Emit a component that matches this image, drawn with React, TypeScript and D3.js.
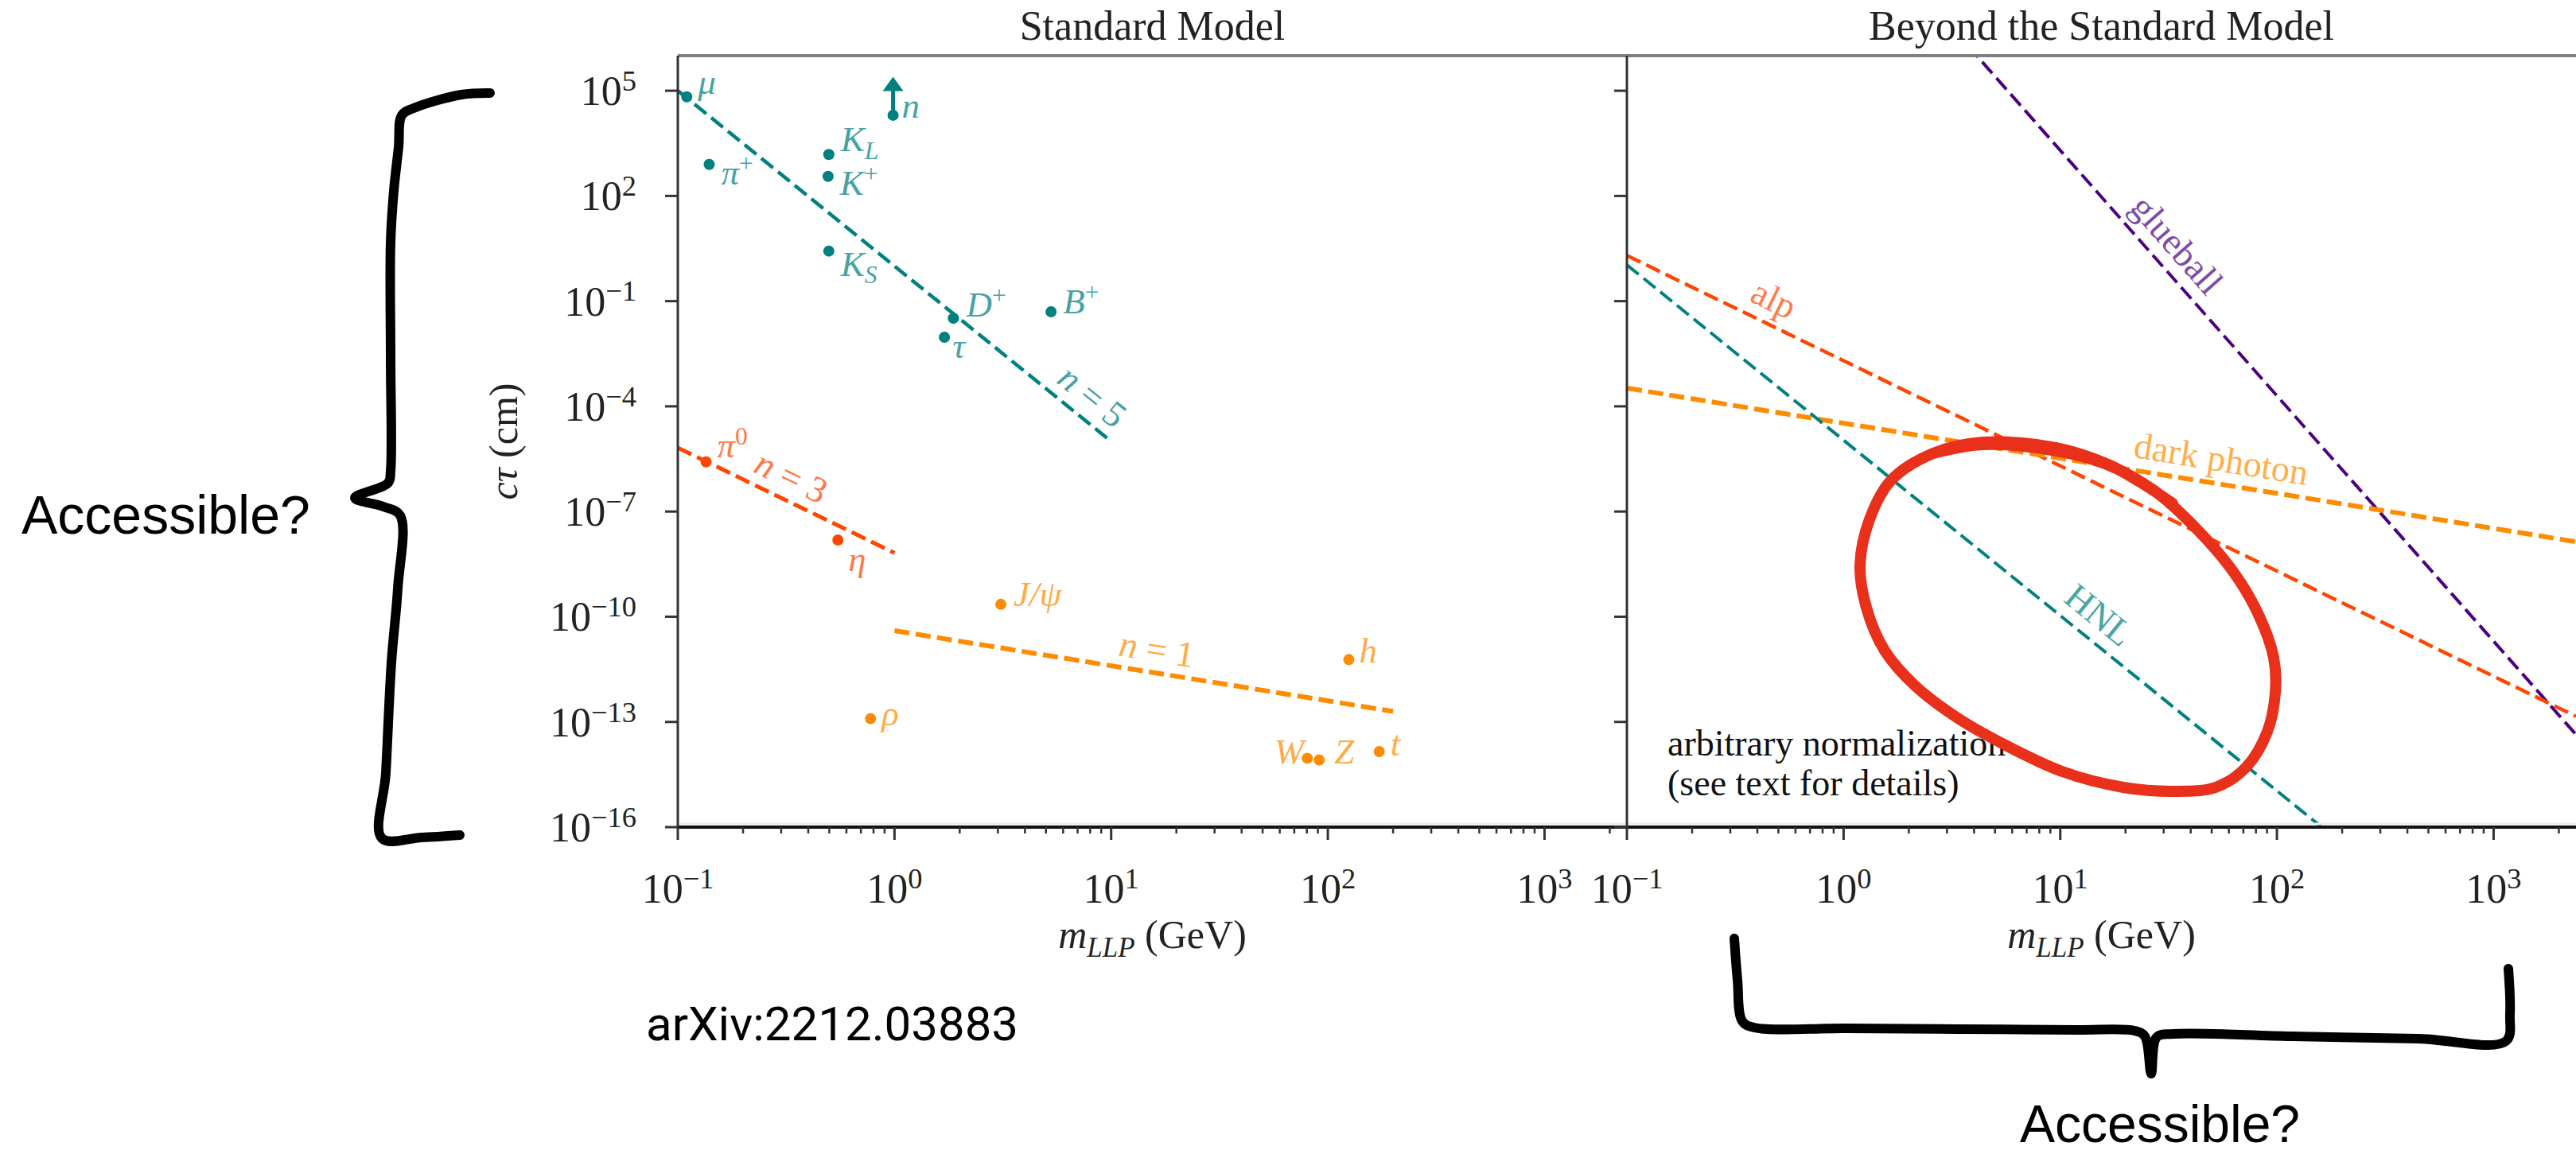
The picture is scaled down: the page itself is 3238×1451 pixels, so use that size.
import React from "react";
import * as d3 from "d3";

// ---------------- data ----------------
const xDomain = [0.1, 2400];
const yDomain = [1e-16, 1e6];
const xTickValues = [0.1, 1, 10, 100, 1000];
const yTickValues = [1e5, 1e2, 1e-1, 1e-4, 1e-7, 1e-10, 1e-13, 1e-16];

// Standard Model particles: mass (GeV), c tau (cm)
const tealNames = ["mu", "pi+", "KL", "K+", "KS", "n", "D+", "B+", "tau"];
const tealMass = [0.11, 0.1396, 0.4976, 0.4937, 0.4976, 0.985, 1.87, 5.28, 1.7];
const tealCtau = [6.7e4, 790, 1520, 362, 2.68, 2.0e4, 0.0325, 0.0498, 0.0093];

const redNames = ["pi0", "eta"];
const redMass = [0.135, 0.548];
const redCtau = [2.6e-6, 1.54e-8];

const orangeNames = ["Jpsi", "rho", "h", "W", "Z", "t"];
const orangeMass = [3.097, 0.775, 125, 80.4, 91.2, 172.7];
const orangeCtau = [2.26e-10, 1.24e-13, 6.0e-12, 9.2e-15, 8.2e-15, 1.43e-14];

const neutronArrowTop = 2.5e5; // the neutron is off the chart

// scaling lines: c tau = norm * m^-power
const smLineNames = ["n = 5", "n = 3", "n = 1"];
const smLinePower = [5, 3, 1];
const smLineNorm = [1.0, 6.6e-9, 4.0e-11];
const smLineFrom = [0.1, 0.1, 1];
const smLineTo = [10, 1, 200];
const smLineLabelAt = [7.0, 0.3, 15.6];

const bsmLineNames = ["glueball", "alp", "dark photon", "HNL"];
const bsmLinePower = [7, 3, 1, 5];
const bsmLineNorm = [2.0e10, 2.0e-3, 3.3e-5, 1.08e-5];
const bsmLineLabelAt = [28.3, 0.425, 53, 12.8];

// ---------------- styles / layout ----------------
const W = 3238;
const H = 1451;
const TOP = 70;
const BOTTOM = 1040;
const LEFT = 852;
const MID = 2045;
const RIGHT = 3238;

const TEAL = "#008080";
const RED = "#ff4500";
const ORANGE = "#ff8c00";
const INDIGO = "#4b0082";
const serif = "'Liberation Serif', 'DejaVu Serif', serif";
const sans = "'Liberation Sans', Arial, sans-serif";

const smLineColor = [TEAL, RED, ORANGE];
const smLineWidth = [4.5, 5, 6];
const bsmLineColor = [INDIGO, RED, ORANGE, TEAL];
const bsmLineWidth = [4, 4.5, 6, 4];

// label offset from the dot (px), and anchor
const labelOffset: Record<string, [number, number, string]> = {
  mu: [14, -4, "start"],
  "pi+": [15, 25, "start"],
  KL: [15, -4, "start"],
  "K+": [15, 23, "start"],
  KS: [15, 31, "start"],
  n: [11, 3, "start"],
  "D+": [16, -2, "start"],
  "B+": [15, 2, "start"],
  tau: [10, 26, "start"],
  pi0: [14, -6, "start"],
  eta: [13, 39, "start"],
  Jpsi: [16, 2, "start"],
  rho: [14, 8, "start"],
  h: [13, 4, "start"],
  W: [-4, 7, "end"],
  Z: [19, 4, "start"],
  t: [14, 5, "start"],
};

// hand drawn annotations (pixels)
const leftBrace = [
  [616, 117], [580, 119], [520, 136], [505, 145], [501, 185], [495, 240], [491, 305],
  [491, 450], [491, 592], [488, 607], [446, 626], [482, 637], [503, 648], [500, 740],
  [492, 833], [485, 972], [480, 1054], [530, 1053], [578, 1050],
];
const bottomBrace = [
  [2180, 1180], [2184, 1232], [2190, 1284], [2205, 1292], [2320, 1293], [2460, 1294],
  [2610, 1295], [2683, 1296], [2696, 1303], [2704, 1350], [2711, 1304], [2732, 1300],
  [2880, 1303], [3040, 1306], [3150, 1309], [3155, 1275], [3153, 1218],
];
const redLoop = [
  [2430, 570], [2492, 559], [2585, 567], [2646, 583], [2708, 617], [2762, 666],
  [2808, 720], [2839, 773], [2858, 827], [2860, 871], [2850, 920], [2823, 965],
  [2785, 990], [2731, 995], [2669, 990], [2592, 970], [2523, 938], [2461, 903],
  [2407, 862], [2369, 818], [2346, 764], [2338, 711], [2350, 653], [2377, 604],
  [2430, 570], [2492, 556], [2585, 563], [2650, 584], [2690, 606], [2731, 633],
];

// ---------------- scales ----------------
const y = d3.scaleLog().domain(yDomain).range([BOTTOM, TOP]);
const xL = d3.scaleLog().domain(xDomain).range([LEFT, MID]);
const xR = d3.scaleLog().domain(xDomain).range([MID, RIGHT]);

const minorTicks: number[] = [];
for (let d = -1; d <= 3; d++) {
  for (let k = 2; k <= 9; k++) {
    const v = k * Math.pow(10, d);
    if (v <= xDomain[1]) minorTicks.push(v);
  }
}

const exp = (v: number) => Math.round(Math.log10(v));
const expText = (e: number) => (e < 0 ? "\u2212" + -e : String(e));

const sup = (s: string) => (
  <tspan fontSize="0.7em" dy="-0.5em" fontStyle="normal">{s}</tspan>
);
const sub = (s: string) => (
  <tspan fontSize="0.7em" dy="0.3em" fontStyle="italic">{s}</tspan>
);
const it = (s: string) => <tspan fontStyle="italic">{s}</tspan>;

function particleLabel(name: string) {
  switch (name) {
    case "mu": return it("μ");
    case "pi+": return <>{it("π")}{sup("+")}</>;
    case "KL": return <>{it("K")}{sub("L")}</>;
    case "K+": return <>{it("K")}{sup("+")}</>;
    case "KS": return <>{it("K")}{sub("S")}</>;
    case "n": return it("n");
    case "D+": return <>{it("D")}{sup("+")}</>;
    case "B+": return <>{it("B")}{sup("+")}</>;
    case "tau": return it("τ");
    case "pi0": return <>{it("π")}{sup("0")}</>;
    case "eta": return it("η");
    case "Jpsi": return it("J/ψ");
    case "rho": return it("ρ");
    default: return it(name);
  }
}

function lineLabelText(name: string) {
  if (name.startsWith("n = ")) return <>{it("n")}<tspan>{" = " + name.slice(4)}</tspan></>;
  return name;
}

const power = (norm: number, p: number) => (m: number) => norm * Math.pow(m, -p);
const line2 = d3.line<[number, number]>();

function labelOnLine(xs: any, f: (m: number) => number, mAt: number, off: number) {
  const p = [xs(mAt), y(f(mAt))];
  const q = [xs(mAt * 1.2), y(f(mAt * 1.2))];
  const a = Math.atan2(q[1] - p[1], q[0] - p[0]);
  return {
    x: p[0] + Math.sin(a) * off,
    y: p[1] - Math.cos(a) * off,
    deg: (a * 180) / Math.PI,
  };
}

function Dots({ names, mass, ctau, color }: any) {
  return (
    <g>
      {names.map((nm: string, i: number) => {
        const cx = xL(mass[i]);
        const cy = y(ctau[i]);
        const [dx, dy, anchor] = labelOffset[nm];
        return (
          <g key={nm}>
            <circle cx={cx} cy={cy} r={7} fill={color} />
            <text x={cx + dx} y={cy + dy} textAnchor={anchor} fill={color} opacity={0.72}
              fontFamily={serif} fontSize={45}>
              {particleLabel(nm)}
            </text>
          </g>
        );
      })}
    </g>
  );
}

function Axes({ xs, x0, x1, title, yLabels }: any) {
  const cx = (x0 + x1) / 2;
  return (
    <g fontFamily={serif} fill="#222">
      <text x={cx} y={50} textAnchor="middle" fontSize={52}>{title}</text>
      {/* frame */}
      <line x1={x0} x2={x1} y1={TOP} y2={TOP} stroke="#808080" strokeWidth={4} />
      <line x1={x0} x2={x1} y1={BOTTOM - 4} y2={BOTTOM - 4} stroke="#eeeeee" strokeWidth={3} />
      <line x1={x0} x2={x1} y1={BOTTOM} y2={BOTTOM} stroke="#111" strokeWidth={4} />
      <line x1={x0} x2={x0} y1={TOP} y2={BOTTOM} stroke="#333" strokeWidth={3} />
      {/* x ticks */}
      {minorTicks.map((v) => (
        <line key={"m" + v} x1={xs(v)} x2={xs(v)} y1={BOTTOM} y2={BOTTOM + 8} stroke="#333" strokeWidth={2.5} />
      ))}
      {xTickValues.map((v) => (
        <g key={"x" + v}>
          <line x1={xs(v)} x2={xs(v)} y1={BOTTOM} y2={BOTTOM + 16} stroke="#333" strokeWidth={3} />
          <text x={xs(v)} y={1135} textAnchor="middle" fontSize={52}>
            10{sup(expText(exp(v)))}
          </text>
        </g>
      ))}
      {/* y ticks */}
      {yTickValues.map((v) => (
        <g key={"y" + v}>
          <line x1={x0 - 16} x2={x0} y1={y(v)} y2={y(v)} stroke="#333" strokeWidth={3} />
          {yLabels && (
            <text x={800} y={y(v) + 18} textAnchor="end" fontSize={52}>
              10{sup(expText(exp(v)))}
            </text>
          )}
        </g>
      ))}
      <text x={cx} y={1192} textAnchor="middle" fontSize={50}>
        {it("m")}{sub("LLP")}<tspan dy="-0.21em">{" (GeV)"}</tspan>
      </text>
    </g>
  );
}

export default function App() {
  const smLines = smLineNames.map((nm, i) => {
    const f = power(smLineNorm[i], smLinePower[i]);
    const d = line2([
      [xL(smLineFrom[i]), y(f(smLineFrom[i]))],
      [xL(smLineTo[i]), y(f(smLineTo[i]))],
    ]);
    const lab = labelOnLine(xL, f, smLineLabelAt[i], 30);
    return { nm, d, lab, color: smLineColor[i], w: smLineWidth[i] };
  });
  const bsmLines = bsmLineNames.map((nm, i) => {
    const f = power(bsmLineNorm[i], bsmLinePower[i]);
    const d = line2([
      [xR(xDomain[0]), y(f(xDomain[0]))],
      [xR(xDomain[1]), y(f(xDomain[1]))],
    ]);
    const lab = labelOnLine(xR, f, bsmLineLabelAt[i], 32);
    return { nm, d, lab, color: bsmLineColor[i], w: bsmLineWidth[i] };
  });

  const nx = xL(tealMass[5]);
  const nTop = y(neutronArrowTop);
  const curve = d3.line<number[]>().curve(d3.curveCatmullRom.alpha(0.5));

  return (
    <svg width={W} height={H} style={{ position: "absolute", left: 0, top: 0, background: "#fff" }}>
      <defs>
        <clipPath id="clipL"><rect x={LEFT} y={TOP} width={MID - LEFT} height={BOTTOM - TOP} /></clipPath>
        <clipPath id="clipR"><rect x={MID} y={TOP} width={RIGHT - MID} height={BOTTOM - TOP} /></clipPath>
      </defs>
      <rect width={W} height={H} fill="#fff" />

      {/* Standard Model panel */}
      <g clipPath="url(#clipL)">
        {smLines.map((l) => (
          <path key={l.nm} d={l.d!} stroke={l.color} strokeWidth={l.w} strokeDasharray="19 8" fill="none" />
        ))}
        {smLines.map((l) => (
          <text key={"t" + l.nm} transform={`translate(${l.lab.x},${l.lab.y}) rotate(${l.lab.deg})`}
            textAnchor="middle" dy="0.35em" fill={l.color} opacity={0.72} fontFamily={serif} fontSize={46}>
            {lineLabelText(l.nm)}
          </text>
        ))}
        <Dots names={tealNames} mass={tealMass} ctau={tealCtau} color={TEAL} />
        <Dots names={redNames} mass={redMass} ctau={redCtau} color={RED} />
        <Dots names={orangeNames} mass={orangeMass} ctau={orangeCtau} color={ORANGE} />
        <line x1={nx} x2={nx} y1={y(tealCtau[5])} y2={nTop + 14} stroke={TEAL} strokeWidth={5} />
        <path d={`M${nx - 13},${nTop + 18} L${nx},${nTop} L${nx + 13},${nTop + 18} Z`} fill={TEAL} />
      </g>

      {/* Beyond the Standard Model panel */}
      <g clipPath="url(#clipR)">
        {bsmLines.map((l) => (
          <path key={l.nm} d={l.d!} stroke={l.color} strokeWidth={l.w} strokeDasharray="19 8" fill="none" />
        ))}
        {bsmLines.map((l) => (
          <text key={"t" + l.nm} transform={`translate(${l.lab.x},${l.lab.y}) rotate(${l.lab.deg})`}
            textAnchor="middle" dy="0.35em" fill={l.color} opacity={0.7} fontFamily={serif} fontSize={46}>
            {l.nm}
          </text>
        ))}
        <text x={2096} y={950} fontFamily={serif} fontSize={46} fill="#111">arbitrary normalization</text>
        <text x={2096} y={1000} fontFamily={serif} fontSize={46} fill="#111">(see text for details)</text>
      </g>

      <Axes xs={xL} x0={LEFT} x1={MID} title="Standard Model" yLabels={true} />
      <Axes xs={xR} x0={MID} x1={RIGHT} title="Beyond the Standard Model" yLabels={false} />

      <text transform="translate(650,555) rotate(-90)" textAnchor="middle" fontFamily={serif} fontSize={50} fill="#222">
        {it("cτ")}<tspan>{" (cm)"}</tspan>
      </text>

      {/* annotations */}
      <path d={curve(redLoop)!} fill="none" stroke="#e8301a" strokeWidth={14} strokeLinecap="round" strokeLinejoin="round" />
      <path d={curve(leftBrace)!} fill="none" stroke="#000" strokeWidth={12} strokeLinecap="round" strokeLinejoin="round" />
      <path d={curve(bottomBrace)!} fill="none" stroke="#000" strokeWidth={12} strokeLinecap="round" strokeLinejoin="round" />
      <text x={27} y={671} fontFamily={sans} fontSize={68} fill="#000">Accessible?</text>
      <text x={2715} y={1436} textAnchor="middle" fontFamily={sans} fontSize={66} fill="#000">Accessible?</text>
      <text x={812} y={1308} fontFamily="Roboto, 'Liberation Sans', sans-serif" fontSize={60} fill="#000">arXiv:2212.03883</text>
    </svg>
  );
}
